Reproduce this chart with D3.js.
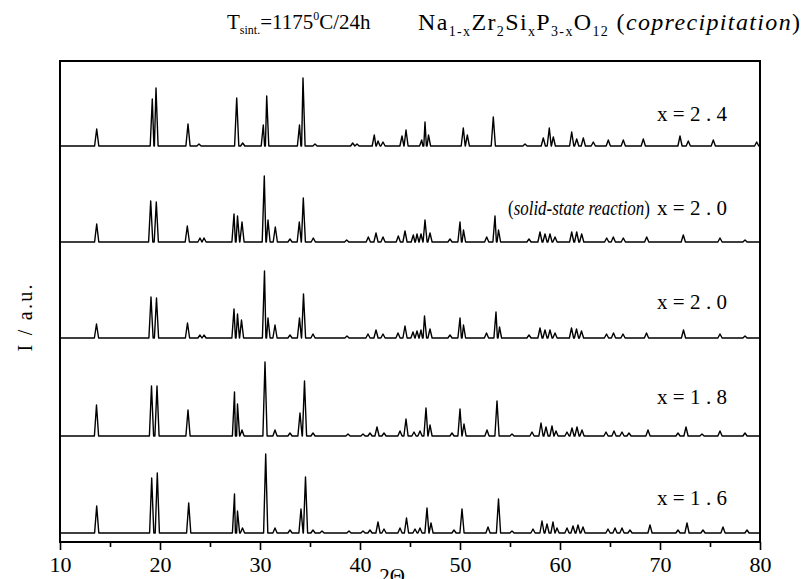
<!DOCTYPE html>
<html>
<head>
<meta charset="utf-8">
<script src="https://cdn.jsdelivr.net/npm/d3@7"></script>
<style>
    body { margin: 0; background: #fff; }
    svg { display: block; font-family: "Liberation Serif", "Times New Roman", serif; }
    .trace { fill: none; stroke: #000; stroke-width: 1.4; stroke-linejoin: round; }
    .frame { fill: none; stroke: #000; stroke-width: 2; }
    .axis line { stroke: #000; stroke-width: 1.6; }
    .axis text { font-family: "Liberation Serif", serif; font-size: 22px; fill: #000; }
</style>
</head>
<body>
<svg id="chart" width="801" height="579"></svg>
<script>
// 2-theta range and ticks
const xDomain = [10, 80];
const majorTicks = [10, 20, 30, 40, 50, 60, 70, 80];
const minorTicks = [15, 25, 35, 45, 55, 65, 75];

// stacking offset of each pattern (a.u.), bottom to top
const offsets = [0, 97, 195, 291, 387];
const labels = ["x=1.6", "x=1.8", "x=2.0", "x=2.0", "x=2.4"];

// peak lists [2theta, intensity]
const peaks16 = [[13.67,27],[19.17,55],[19.73,60],[22.87,30],[27.45,39],[27.75,22],[28.25,5],[30.57,79],[31.5,5],[33.0,3],[34.1,24],[34.55,56],[35.3,3],[36.2,2],[38.9,2],[40.3,2],[41.0,3],[41.8,11],[42.4,4],[44.0,5],[44.65,15],[45.5,4],[46.0,5],[46.7,25],[47.1,10],[49.4,3],[50.2,24],[52.8,6],[53.85,34],[55.2,2],[57.3,4],[58.2,12],[58.7,9],[59.3,11],[59.7,5],[60.7,5],[61.3,7],[61.8,8],[62.3,6],[64.8,4],[65.5,5],[66.2,5],[67.0,3],[69.0,8],[71.8,3],[72.7,10],[74.3,3],[76.3,6],[78.7,3]];
const peaks18 = [[13.65,31],[19.15,50],[19.7,50],[22.8,26],[27.45,44],[27.75,32],[28.2,6],[30.5,74],[31.5,6],[33.0,3],[34.0,23],[34.45,55],[35.3,3],[38.8,2],[40.3,2],[41.0,3],[41.7,9],[42.4,3],[44.0,5],[44.6,17],[45.4,4],[46.0,5],[46.6,28],[47.0,11],[49.2,3],[50.0,27],[50.4,12],[52.7,6],[53.7,35],[55.2,2],[57.2,4],[58.1,13],[58.6,9],[59.2,10],[59.6,5],[60.7,4],[61.2,8],[61.7,9],[62.2,6],[64.6,4],[65.4,5],[66.2,4],[66.9,3],[68.8,6],[71.8,3],[72.6,9],[74.2,2],[76.0,5],[78.5,3]];
const peaks20 = [[13.65,14],[19.1,41],[19.65,40],[22.75,15],[24.0,3],[24.4,3],[27.4,29],[27.75,24],[28.15,18],[30.45,67],[30.8,20],[31.5,13],[33.0,3],[33.95,20],[34.35,44],[35.3,4],[38.7,2],[40.8,4],[41.6,8],[42.3,4],[43.8,5],[44.5,12],[45.3,6],[45.7,7],[46.1,8],[46.45,22],[47.0,9],[49.0,3],[50.0,20],[50.35,13],[52.65,5],[53.6,26],[53.95,11],[56.9,3],[58.0,10],[58.5,8],[59.0,8],[59.5,5],[61.15,10],[61.65,9],[62.15,7],[64.65,4],[65.35,5],[66.3,4],[68.65,5],[72.35,8],[76.0,4],[78.5,2]];
const peaks20ss = [[13.67,18],[19.07,41],[19.63,40],[22.73,16],[24.0,4],[24.4,4],[27.4,28],[27.75,26],[28.2,20],[30.43,66],[30.8,22],[31.53,15],[33.0,3],[33.93,20],[34.33,44],[35.33,4],[38.67,2],[40.83,5],[41.6,9],[42.3,5],[43.83,6],[44.5,11],[45.33,7],[45.7,8],[46.1,8],[46.5,22],[47.0,9],[49.0,3],[50.0,20],[50.35,12],[52.67,5],[53.5,26],[53.85,12],[56.9,3],[58.0,10],[58.5,8],[59.0,8],[59.5,5],[61.17,10],[61.67,10],[62.17,8],[64.67,4],[65.33,5],[66.33,4],[68.67,5],[72.33,7],[76.0,4],[78.5,2]];
const peaks24 = [[13.67,17],[19.23,47],[19.6,58],[22.8,22],[23.9,2],[27.67,48],[28.27,3],[30.33,21],[30.67,50],[33.95,21],[34.3,68],[35.5,2],[39.27,3],[39.7,2],[41.43,11],[41.8,5],[42.3,4],[44.2,10],[44.6,16],[46.17,6],[46.5,24],[46.85,11],[50.33,18],[50.73,11],[53.33,29],[56.5,2],[58.33,8],[58.93,18],[59.33,9],[61.17,14],[61.67,7],[62.33,8],[63.33,4],[64.83,6],[66.33,6],[68.33,7],[72.0,10],[72.83,5],[75.33,6],[79.67,4]];

const patterns = [peaks16, peaks18, peaks20, peaks20ss, peaks24];

const width = 801, height = 579;
const margin = {top: 61, right: 41, bottom: 37, left: 60};
const halfWidth = 0.21; // peak half base width, deg

const svg = d3.select("#chart");

const x = d3.scaleLinear().domain(xDomain).range([margin.left, width - margin.right]);
const y = d3.scaleLinear().domain([-9, 472]).range([height - margin.bottom, margin.top]);

// turn a peak list into a polyline along the baseline
function profile(peaks) {
    let pts = [[xDomain[0], 0]];
    peaks.forEach(([p, h]) => {
        pts.push([p - halfWidth, 0], [p, h], [p + halfWidth, 0]);
    });
    pts.push([xDomain[1], 0]);
    return pts.sort((a, b) => a[0] - b[0]);
}

const line = d3.line();

svg.append("g").selectAll("path")
    .data(patterns)
    .enter()
    .append("path")
    .attr("class", "trace")
    .attr("d", (d, i) => line(profile(d).map(([p, h]) => [x(p), y(h + offsets[i])])));

// frame
svg.append("rect")
    .attr("class", "frame")
    .attr("x", x(10))
    .attr("y", margin.top)
    .attr("width", x(80) - x(10))
    .attr("height", height - margin.bottom - margin.top);

// bottom axis, majors and minors
let axisY = height - margin.bottom;
let gMajor = svg.append("g")
    .attr("class", "axis")
    .attr("transform", `translate(0,${axisY})`)
    .call(d3.axisBottom(x).tickValues(majorTicks).tickSize(8).tickPadding(6).tickFormat(d3.format("d")));
gMajor.select(".domain").remove();

let gMinor = svg.append("g")
    .attr("class", "axis")
    .attr("transform", `translate(0,${axisY})`)
    .call(d3.axisBottom(x).tickValues(minorTicks).tickSize(5).tickFormat(""));
gMinor.select(".domain").remove();

// axis titles
svg.append("text")
    .attr("x", 392)
    .attr("y", 583)
    .attr("text-anchor", "middle")
    .attr("font-size", 21)
    .text("2Θ");

svg.append("text")
    .attr("transform", "translate(32,318) rotate(-90)")
    .attr("text-anchor", "middle")
    .attr("font-size", 20)
    .attr("textLength", 67)
    .attr("lengthAdjust", "spacing")
    .text("I / a.u.");

// pattern labels
const labelPos = [
    {x: 657, y: 505, len: 70},
    {x: 657, y: 404, len: 70},
    {x: 657, y: 309, len: 70},
    {x: 657, y: 215, len: 70},
    {x: 657, y: 121, len: 70}
];
labels.forEach((t, i) => {
    svg.append("text")
        .attr("x", labelPos[i].x)
        .attr("y", labelPos[i].y)
        .attr("font-size", 21)
        .attr("textLength", labelPos[i].len)
        .attr("lengthAdjust", "spacing")
        .text(t);
});

// method note, squeezed to fit in front of the label
let ss = svg.append("text")
    .attr("font-size", 20);
ss.append("tspan").text("(");
ss.append("tspan").attr("font-style", "italic").text("solid-state reaction");
ss.append("tspan").text(")");
let ssWidth = ss.node().getComputedTextLength();
ss.attr("transform", `translate(508,215) scale(${142 / ssWidth},1)`);

// titles above the frame
let t1 = svg.append("text")
    .attr("x", 227)
    .attr("y", 29)
    .attr("font-size", 21);
t1.append("tspan").text("T");
t1.append("tspan").attr("font-size", 12).attr("dy", 5).text("sint.");
t1.append("tspan").attr("dy", -5).text("=1175");
t1.append("tspan").attr("font-size", 12).attr("dy", -9).text("0");
t1.append("tspan").attr("dy", 9).text("C/24h");

let t2 = svg.append("text")
    .attr("x", 418)
    .attr("y", 30)
    .attr("font-size", 24)
    .attr("textLength", 382)
    .attr("lengthAdjust", "spacing");
const formula = [["Na", 0], ["1-x", 1], ["Zr", 0], ["2", 1], ["Si", 0], ["x", 1], ["P", 0], ["3-x", 1], ["O", 0], ["12", 1]];
let prevSub = 0;
formula.forEach(([s, sub]) => {
    t2.append("tspan")
        .attr("font-size", sub ? 14 : 24)
        .attr("dy", (sub - prevSub) * 6)
        .text(s);
    prevSub = sub;
});
t2.append("tspan").attr("dy", -6).text(" (");
t2.append("tspan").attr("font-style", "italic").text("coprecipitation");
t2.append("tspan").text(")");
</script>
</body>
</html>
